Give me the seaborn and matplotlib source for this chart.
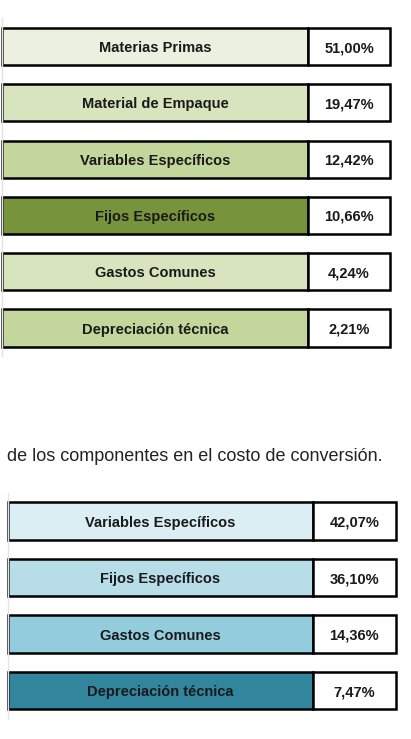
import numpy as np
import pandas as pd
import matplotlib
matplotlib.use('Agg')
import matplotlib.pyplot as plt
import seaborn as sns

# Composicion del costo total (tabla superior)
comp_total = ['Materias Primas', 'Material de Empaque', 'Variables Específicos',
              'Fijos Específicos', 'Gastos Comunes', 'Depreciación técnica']
pct_total = [51.00, 19.47, 12.42, 10.66, 4.24, 2.21]
col_total = ['#ebf1de', '#d7e4bd', '#c3d69b', '#77933c', '#d7e4bd', '#c3d69b']

# Composicion del costo de conversion (tabla inferior)
comp_conv = ['Variables Específicos', 'Fijos Específicos', 'Gastos Comunes',
             'Depreciación técnica']
pct_conv = [42.07, 36.10, 14.36, 7.47]
col_conv = ['#dbeef4', '#b7dee8', '#93cddd', '#31859c']

caption = 'de los componentes en el costo de conversión.'

sns.set_theme(style='white')
plt.rcParams['font.family'] = ['Liberation Sans', 'DejaVu Sans']

W, H = 411, 739
fig = plt.figure(figsize=(W / 100, H / 100), dpi=100)


def fmt(v):
    return f"{v:.2f}".replace('.', ',') + '%'


def draw_table(ax, names, values, colors, frac):
    df = pd.DataFrame({'comp': names, 'w': [frac] * len(names)})
    sns.barplot(data=df, x='w', y='comp', hue='comp', palette=colors, orient='h',
                width=0.66, edgecolor='black', linewidth=1.8, legend=False,
                saturation=1, ax=ax)
    pos = np.arange(len(names))
    ax.barh(pos, 1 - frac, left=frac, height=0.66, color='white',
            edgecolor='black', linewidth=1.8)
    for p in ax.patches:
        p.set_clip_on(False)
    for i, (n, v) in enumerate(zip(names, values)):
        ax.text(frac / 2, i, n, ha='center', va='center_baseline', fontsize=10.5,
                fontweight='bold', color='#1a1a1a')
        ax.text(frac + (1 - frac) / 2, i, fmt(v), ha='center',
                va='center_baseline', fontsize=10.5, fontweight='bold',
                color='#1a1a1a')
    ax.set_xlim(0, 1)
    ax.set_ylim(len(names) - 0.5, -0.5)
    ax.set_xticks([])
    ax.set_yticks([])
    ax.set_xlabel('')
    ax.set_ylabel('')
    for s in ['top', 'right', 'bottom']:
        ax.spines[s].set_visible(False)
    ax.spines['left'].set_color('#e4e4e4')
    ax.spines['left'].set_linewidth(1)
    ax.patch.set_alpha(0)


ax1 = fig.add_axes([2 / W, 1 - 356.2 / H, 388 / W, 337.8 / H])
draw_table(ax1, comp_total, pct_total, col_total, 306 / 388)

ax2 = fig.add_axes([7.5 / W, 1 - 718.8 / H, 388 / W, 226 / H])
draw_table(ax2, comp_conv, pct_conv, col_conv, 305.5 / 388)

fig.text(7 / W, 1 - 457 / H, caption, ha='left', va='center', fontsize=13,
         color='#222222')

fig.savefig('out.png', dpi=100, facecolor='white')
